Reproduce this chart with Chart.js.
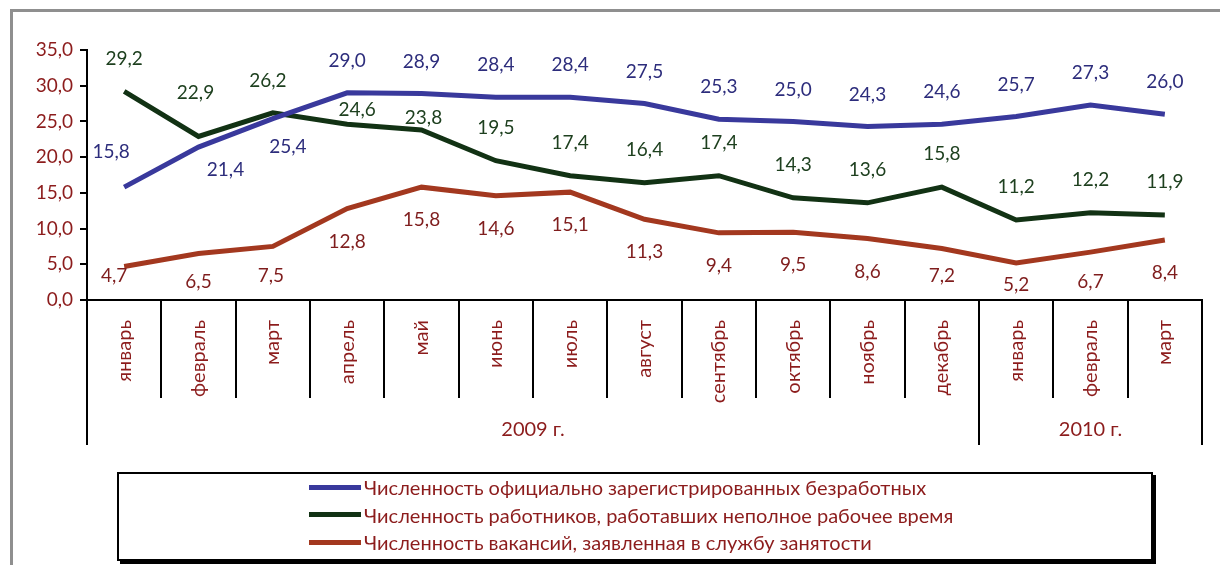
<!DOCTYPE html>
<html>
<head>
<meta charset="utf-8">
<script src="https://cdn.jsdelivr.net/npm/chart.js@4/dist/chart.umd.min.js"></script>
<style>
  html, body { margin: 0; padding: 0; background: #fff; }
  .page { position: relative; width: 1220px; height: 565px; overflow: hidden; }
  .frame {
    position: absolute; left: 10px; top: 9px; width: 1400px; height: 800px;
    border: 3px solid #8f8f8f;
  }
  canvas { position: absolute; left: 0; top: 0; }
  .legend {
    position: absolute; left: 117px; top: 472px; width: 1032px; height: 85px;
    border: 2px solid #000; box-shadow: 3px 3px 0 #000; background: #fff;
    font-family: Lato, "Noto Sans", sans-serif; font-size: 20px; color: #8c1c1c;
  }
  .legendItem { position: absolute; left: 190px; display: flex; align-items: center; height: 24px; }
  .swatch { width: 52px; height: 5px; margin-right: 3px; }
</style>
</head>
<body>
<div class="page">
  <div class="frame"></div>
  <canvas id="chart" width="1220" height="565"></canvas>
  <div class="legend" id="legend"></div>
</div>
<script>
const months = ["январь", "февраль", "март", "апрель", "май", "июнь", "июль", "август",
  "сентябрь", "октябрь", "ноябрь", "декабрь", "январь", "февраль", "март"];
const years = ["2009 г.", "2010 г."];
const yearSpans = [12, 3];

const unemployed = [15.8, 21.4, 25.4, 29.0, 28.9, 28.4, 28.4, 27.5, 25.3, 25.0, 24.3, 24.6, 25.7, 27.3, 26.0];
const partTime = [29.2, 22.9, 26.2, 24.6, 23.8, 19.5, 17.4, 16.4, 17.4, 14.3, 13.6, 15.8, 11.2, 12.2, 11.9];
const vacancies = [4.7, 6.5, 7.5, 12.8, 15.8, 14.6, 15.1, 11.3, 9.4, 9.5, 8.6, 7.2, 5.2, 6.7, 8.4];

const seriesNames = [
  "Численность официально зарегистрированных безработных",
  "Численность работников, работавших неполное рабочее время",
  "Численность вакансий, заявленная в службу занятости"
];

const darkRed = "#8c1c1c";
const fmt = (v) => v.toFixed(1).replace(".", ",");

// label offsets: default per series, plus a few hand placed ones
const labelShift = [-32, -33, 33];
const labelNudge = {
  0: { 0: [-13, -35], 1: [27, 23], 2: [15, 28] },
  1: { 1: [-3, -44], 2: [-5, -32], 3: [10, -14], 4: [2, -12] },
  2: { 0: [-10, 9], 1: [0, 28], 2: [-2, 29], 11: [0, 27], 12: [0, 22], 13: [0, 30] }
};

const valueLabels = {
  id: "valueLabels",
  afterDatasetsDraw(chart) {
    const ctx = chart.ctx;
    ctx.save();
    ctx.font = "19px Lato, 'Noto Sans', sans-serif";
    ctx.textAlign = "center";
    ctx.textBaseline = "middle";
    chart.data.datasets.forEach((ds, i) => {
      const meta = chart.getDatasetMeta(i);
      ctx.fillStyle = ds.labelColor;
      meta.data.forEach((pt, j) => {
        const n = (labelNudge[i] && labelNudge[i][j]) || [0, labelShift[i]];
        ctx.fillText(fmt(ds.data[j]), pt.x + n[0], pt.y + n[1]);
      });
    });
    ctx.restore();
  }
};

// category separators and the year row under the month labels
const axisTable = {
  id: "axisTable",
  afterDraw(chart) {
    const ctx = chart.ctx;
    const x = chart.scales.x;
    const top = chart.chartArea.bottom;
    const step = x.getPixelForValue(1) - x.getPixelForValue(0);
    const edge = (k) => x.getPixelForValue(0) - step / 2 + step * k;
    const monthRow = top + 98;
    const yearRow = top + 145;
    const yearEdges = [0];
    yearSpans.forEach((s) => yearEdges.push(yearEdges[yearEdges.length - 1] + s));

    ctx.save();
    ctx.strokeStyle = "#000";
    ctx.lineWidth = 2;
    for (let k = 0; k <= months.length; k++) {
      const long = yearEdges.includes(k);
      ctx.beginPath();
      ctx.moveTo(Math.round(edge(k)), top);
      ctx.lineTo(Math.round(edge(k)), long ? yearRow : monthRow);
      ctx.stroke();
    }
    ctx.fillStyle = darkRed;
    ctx.font = "20px Lato, 'Noto Sans', sans-serif";
    ctx.textAlign = "center";
    ctx.textBaseline = "middle";
    years.forEach((y, i) => {
      const cx = (edge(yearEdges[i]) + edge(yearEdges[i + 1])) / 2;
      ctx.fillText(y, cx, top + 130);
    });
    ctx.restore();
  }
};

const data = {
  labels: months,
  datasets: [
    { label: seriesNames[0], data: unemployed, borderColor: "#39399c", labelColor: "#2d2d7c" },
    { label: seriesNames[1], data: partTime, borderColor: "#123214", labelColor: "#1e401f" },
    { label: seriesNames[2], data: vacancies, borderColor: "#a3381f", labelColor: "#7f1d1d" }
  ].map((d) => Object.assign(d, { borderWidth: 5, pointRadius: 0, tension: 0, fill: false }))
};

const options = {
  responsive: false,
  animation: false,
  layout: { padding: { left: 0, top: 50, right: 18, bottom: 120 } },
  plugins: { legend: { display: false }, tooltip: { enabled: false } },
  scales: {
    x: {
      offset: true,
      grid: { display: false },
      border: { display: true, color: "#000", width: 2 },
      ticks: {
        minRotation: 90, maxRotation: 90, autoSkip: false, padding: 12,
        color: darkRed, font: { family: "Lato, 'Noto Sans', sans-serif", size: 20 }
      },
      afterFit: (s) => { s.height = 145; }
    },
    y: {
      min: 0, max: 35,
      grid: { drawOnChartArea: false, tickLength: 7, color: "#000", lineWidth: 2 },
      border: { display: true, color: "#000", width: 2 },
      ticks: {
        stepSize: 5, padding: 7, callback: (v) => fmt(v),
        color: darkRed, font: { family: "Lato, 'Noto Sans', sans-serif", size: 19 }
      },
      afterFit: (s) => { s.width = 87; }
    }
  }
};

const chart = new Chart(document.getElementById("chart").getContext("2d"), {
  type: "line",
  data: data,
  options: options,
  plugins: [valueLabels, axisTable]
});

// legend box built from the chart's datasets
const legendEl = document.getElementById("legend");
chart.data.datasets.forEach((ds, i) => {
  const item = document.createElement("div");
  item.className = "legendItem";
  item.style.top = (1 + i * 27.5) + "px";
  const sw = document.createElement("span");
  sw.className = "swatch";
  sw.style.backgroundColor = ds.borderColor;
  item.appendChild(sw);
  item.appendChild(document.createTextNode(ds.label));
  legendEl.appendChild(item);
});
</script>
</body>
</html>
